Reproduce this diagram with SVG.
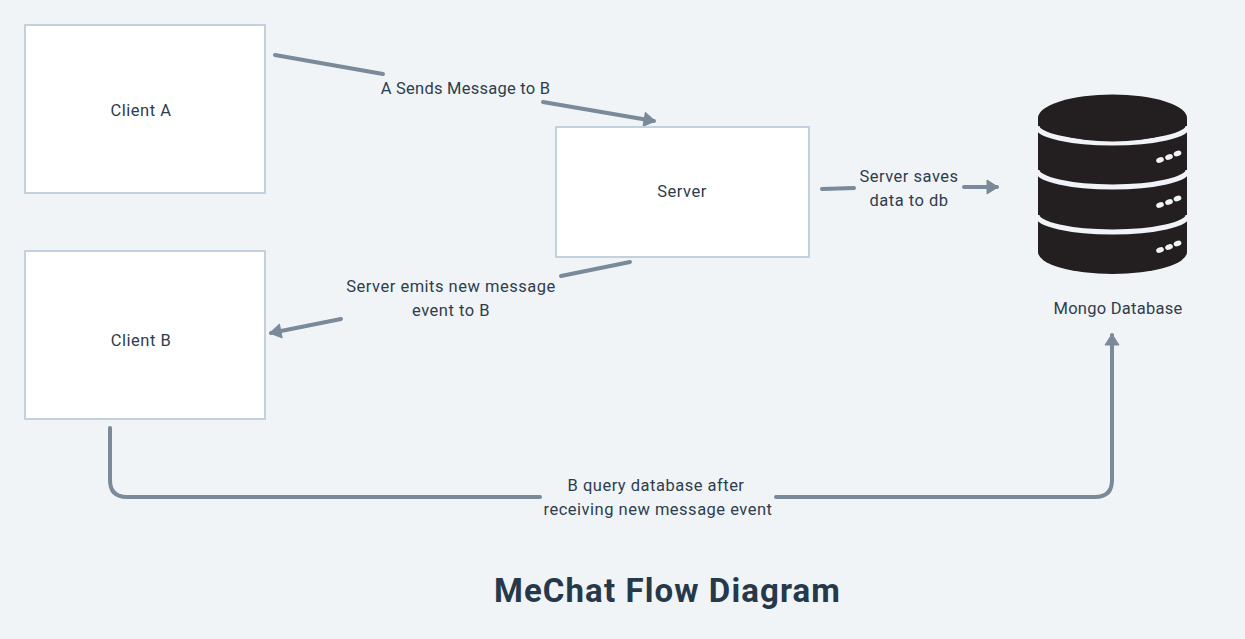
<svg xmlns="http://www.w3.org/2000/svg" width="1245" height="639" viewBox="0 0 1245 639">
<style>
.box{fill:#fff;stroke:#c3d0de;stroke-width:2}
.t{font-family:Roboto,"Liberation Sans",sans-serif;font-size:16.5px;fill:#2f3d4d;text-anchor:middle;letter-spacing:.5px}
.tight{letter-spacing:.25px}
.title{font-family:Roboto,"Liberation Sans",sans-serif;font-size:33px;font-weight:700;fill:#26394a;text-anchor:middle;letter-spacing:1.1px}
.c{fill:none;stroke:#7a8a9a;stroke-width:4;stroke-linecap:round;stroke-linejoin:round}
.band{fill:none;stroke:#f0f4f7;stroke-width:5}
.dot{fill:#f0f4f7}
</style>
<defs>
<marker id="arr" markerUnits="userSpaceOnUse" markerWidth="14" markerHeight="18" refX="11" refY="9" orient="auto" overflow="visible">
<path d="M1,2L12,9L1,16Z" fill="#7a8a9a" stroke="#7a8a9a" stroke-width="1" stroke-linejoin="round"/>
</marker>
</defs>
<rect width="1245" height="639" fill="#f0f4f7"/>
<g id="connectors">
<path class="c" d="M275,55L383,74"/>
<path class="c" d="M543,102L654,121" marker-end="url(#arr)"/>
<path class="c" d="M822,189L854,188"/>
<path class="c" d="M964,187L997,187" marker-end="url(#arr)"/>
<path class="c" d="M630,262L561,276"/>
<path class="c" d="M341,319L271,333" marker-end="url(#arr)"/>
<path class="c" d="M110,428V480Q110,497 127,497H540"/>
<path class="c" d="M776,497H1095Q1112,497 1112,480V335" marker-end="url(#arr)"/>
</g>
<g id="client-a"><rect class="box" x="25" y="25" width="240" height="168"/><text class="t" x="141" y="116">Client A</text></g>
<g id="client-b"><rect class="box" x="25" y="251" width="240" height="168"/><text class="t" x="141" y="346">Client B</text></g>
<g id="server"><rect class="box" x="556" y="127" width="253" height="130"/><text class="t" x="682" y="197">Server</text></g>
<g id="mongo">
<path d="M1038,118H1187V252A74.5,22 0 0 1 1038,252Z" fill="#231f20"/>
<path class="band" d="M1037,126A75.5,17 0 0 0 1188,126"/>
<path class="band" d="M1037,170A75.5,17 0 0 0 1188,170"/>
<path class="band" d="M1037,215A75.5,17 0 0 0 1188,215"/>
<ellipse cx="1112.5" cy="118" rx="74.5" ry="23.5" fill="#231f20"/>
<g class="dot">
<ellipse cx="1160" cy="160" rx="4" ry="2.6" transform="rotate(-20 1160 160)"/><ellipse cx="1169" cy="157" rx="4" ry="2.6" transform="rotate(-20 1169 157)"/><ellipse cx="1177.5" cy="153.5" rx="4" ry="2.6" transform="rotate(-20 1177.5 153.5)"/>
<ellipse cx="1160" cy="205" rx="4" ry="2.6" transform="rotate(-20 1160 205)"/><ellipse cx="1169" cy="202" rx="4" ry="2.6" transform="rotate(-20 1169 202)"/><ellipse cx="1177.5" cy="198.5" rx="4" ry="2.6" transform="rotate(-20 1177.5 198.5)"/>
<ellipse cx="1160" cy="250" rx="4" ry="2.6" transform="rotate(-20 1160 250)"/><ellipse cx="1169" cy="247" rx="4" ry="2.6" transform="rotate(-20 1169 247)"/><ellipse cx="1177.5" cy="243.5" rx="4" ry="2.6" transform="rotate(-20 1177.5 243.5)"/>
</g>
<text class="t tight" x="1118" y="314">Mongo Database</text>
</g>
<g id="labels">
<text class="t tight" x="465.5" y="94">A Sends Message to B</text>
<text class="t" x="909" y="182">Server saves</text>
<text class="t" x="909" y="206">data to db</text>
<text class="t" x="451" y="292">Server emits new message</text>
<text class="t" x="451" y="316">event to B</text>
<text class="t" x="656" y="491">B query database after</text>
<text class="t" x="658" y="515">receiving new message event</text>
<text class="title" x="667.5" y="602">MeChat Flow Diagram</text>
</g>
</svg>
